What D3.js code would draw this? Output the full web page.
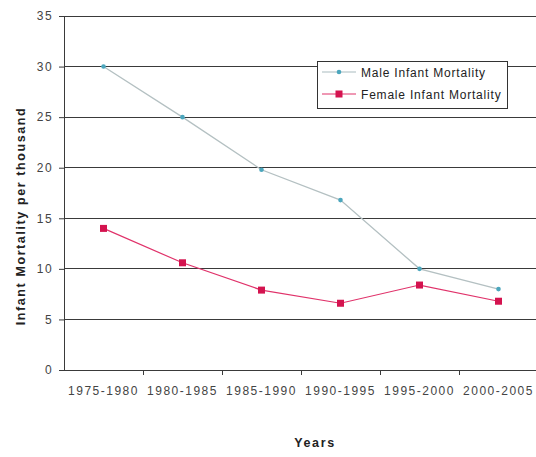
<!DOCTYPE html>
<html><head><meta charset="utf-8">
<script src="https://cdnjs.cloudflare.com/ajax/libs/d3/7.8.5/d3.min.js"></script>
<style>body{margin:0;background:#fff}svg{display:block;font-family:"Liberation Sans",Arial,sans-serif}</style>
</head><body>
<svg id="c" width="536" height="457"></svg>
<script>
const categories = ["1975-1980","1980-1985","1985-1990","1990-1995","1995-2000","2000-2005"];
const maleValues = [30, 25, 19.8, 16.8, 10, 8];
const femaleValues = [14, 10.6, 7.9, 6.6, 8.4, 6.8];
const yTicks = [0,5,10,15,20,25,30,35];
const seriesNames = ["Male Infant Mortality","Female Infant Mortality"];

const svg = d3.select("#c");
const x0 = 64, x1 = 538, yTop = 16, yBot = 370;
const x = d3.scaleBand().domain(categories).range([x0, x1]);
const y = d3.scaleLinear().domain([0,35]).range([yBot, yTop]);

// grid
svg.append("g").selectAll("line").data(yTicks.filter(d=>d>0)).join("line")
  .attr("x1", x0).attr("x2", 536).attr("y1", d=>y(d)).attr("y2", d=>y(d))
  .attr("stroke", "#3a3a3a").attr("stroke-width", 1).attr("shape-rendering","crispEdges");

// y axis
const ya = svg.append("g").attr("transform", `translate(${x0},0)`)
  .call(d3.axisLeft(y).tickValues(yTicks).tickSize(5).tickPadding(6));
ya.select(".domain").attr("stroke","#3a3a3a").attr("shape-rendering","crispEdges");
ya.selectAll(".tick line").attr("stroke","#3a3a3a");
ya.selectAll("text").attr("font-size", 12).attr("letter-spacing","1.4px").attr("fill","#444").attr("font-family","Liberation Sans, Arial");

// x axis
const xa = svg.append("g").attr("transform", `translate(0,${yBot})`)
  .call(d3.axisBottom(x).tickSize(0).tickPadding(16));
xa.select(".domain").attr("stroke","#3a3a3a").attr("shape-rendering","crispEdges");
xa.selectAll("text").attr("font-size", 12).attr("letter-spacing","1.5px").attr("fill","#444").attr("font-family","Liberation Sans, Arial");
svg.append("g").selectAll("line").data(categories.slice(1)).join("line")
  .attr("x1", d=>x(d)).attr("x2", d=>x(d)).attr("y1", yBot).attr("y2", yBot+5)
  .attr("stroke","#3a3a3a").attr("shape-rendering","crispEdges");

const cx = d => x(d) + x.bandwidth()/2;
const line = d3.line().x((d,i)=>cx(categories[i])).y(d=>y(d));

// male
svg.append("path").datum(maleValues).attr("d", line).attr("fill","none")
  .attr("stroke","#b4c0c2").attr("stroke-width",1.3);
svg.append("g").selectAll("circle").data(maleValues).join("circle")
  .attr("cx",(d,i)=>cx(categories[i])).attr("cy",d=>y(d)).attr("r",2.3).attr("fill","#4ba6bd");
// female
svg.append("path").datum(femaleValues).attr("d", line).attr("fill","none")
  .attr("stroke","#e0326a").attr("stroke-width",1.2);
svg.append("g").selectAll("rect").data(femaleValues).join("rect")
  .attr("x",(d,i)=>cx(categories[i])-3.5).attr("y",d=>y(d)-3.5).attr("width",7).attr("height",7).attr("fill","#d4134f");

// legend
const lg = svg.append("g");
lg.append("rect").attr("x",317.5).attr("y",61.5).attr("width",190).attr("height",47)
  .attr("fill","#fff").attr("stroke","#333");
const lcol = ["#a9bcc0","#e0326a"];
seriesNames.forEach((n,i)=>{
  const yy = 72 + i*22;
  lg.append("line").attr("x1",322).attr("x2",356).attr("y1",yy).attr("y2",yy).attr("stroke",lcol[i]).attr("stroke-width",1.2);
  if(i===0) lg.append("circle").attr("cx",339).attr("cy",yy).attr("r",2.3).attr("fill","#4ba6bd");
  else lg.append("rect").attr("x",335.5).attr("y",yy-3.5).attr("width",7).attr("height",7).attr("fill","#d4134f");
  lg.append("text").attr("x",361).attr("y",yy+4.5).attr("font-size",12).attr("letter-spacing","0.8px").attr("fill","#222").text(n);
});

// titles
svg.append("text").attr("x",315).attr("y",447).attr("text-anchor","middle")
  .attr("font-size",12.5).attr("letter-spacing","1.6px").attr("font-weight","bold").attr("fill","#222").text("Years");
svg.append("text").attr("transform","translate(25,216) rotate(-90)").attr("text-anchor","middle")
  .attr("font-size",12.5).attr("letter-spacing","1.6px").attr("font-weight","bold").attr("fill","#222").text("Infant Mortality per thousand");
</script>
</body></html>
